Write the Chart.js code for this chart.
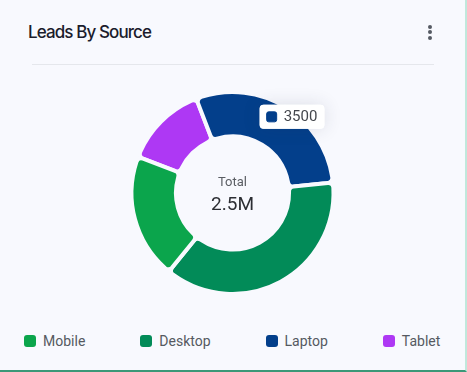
<!DOCTYPE html>
<html>
<head>
<meta charset="utf-8">
<script src="https://cdn.jsdelivr.net/npm/chart.js@4.4.0/dist/chart.umd.min.js"></script>
<style>
  html, body { margin: 0; padding: 0; }
  body {
    width: 467px; height: 372px; overflow: hidden;
    background: #f8f9fe;
    font-family: Roboto, "Noto Sans", sans-serif;
  }
  .card {
    position: relative; width: 467px; height: 372px; box-sizing: border-box;
    border-right: 2px solid #c0e8dc; border-bottom: 2px solid #3b9878;
  }
  .title {
    position: absolute; left: 28px; top: 22px;
    font: 500 17px Inter, sans-serif; letter-spacing: -0.9px; color: #1b1c2c;
  }
  .dots { position: absolute; left: 428px; top: 25px; width: 4px; }
  .dots span { display: block; width: 4px; height: 4px; border-radius: 50%; background: #555a63; margin-bottom: 1.3px; }
  .rule { position: absolute; left: 32px; top: 64px; width: 402px; height: 1px; background: #e5e7ec; }
  .chart-box { position: absolute; left: 0; top: 70px; width: 465px; height: 246px; }
  .legend {
    position: absolute; left: 24px; top: 333px; display: flex; gap: 55px;
    font-size: 14px; color: #555961;
  }
  .legend div { display: flex; align-items: center; }
  .legend i { display: inline-block; width: 12px; height: 12px; border-radius: 3px; margin-right: 7px; }
</style>
</head>
<body>
<div class="card">
  <div class="title">Leads By Source</div>
  <div class="dots"><span></span><span></span><span></span></div>
  <div class="rule"></div>
  <div class="chart-box"><canvas id="donut"></canvas></div>
  <div class="legend" id="legend"></div>
</div>
<script>
// data
var sources = ["Mobile", "Desktop", "Laptop", "Tablet"];
var leads = [2400, 4500, 3500, 1600];
var colors = ["#0ba54c", "#028b58", "#033f8b", "#ae38f4"];
var totalLabel = "2.5M";

// legend
var legendEl = document.getElementById("legend");
sources.forEach(function (name, i) {
    var item = document.createElement("div");
    item.innerHTML = '<i style="background:' + colors[i] + '"></i>' + name;
    legendEl.appendChild(item);
});

// drawn counterclockwise in the picture, so hand chart.js the reversed order
var ringLabels = sources.slice().reverse();
var ringData = leads.slice().reverse();
var ringColors = colors.slice().reverse();
var laptopIdx = ringLabels.indexOf("Laptop");

Chart.Tooltip.positioners.nearArc = function (items) {
    if (!items.length) return false;
    var p = items[0].element.tooltipPosition();
    return { x: p.x - 10, y: p.y + 3 };
};

var centerText = {
    id: 'centerText',
    afterDraw: function (chart) {
        var arc = chart.getDatasetMeta(0).data[0];
        var ctx = chart.ctx;
        ctx.save();
        ctx.textAlign = 'center';
        ctx.fillStyle = '#5a5d63';
        ctx.font = '13px Roboto';
        ctx.fillText('Total', arc.x, arc.y - 7);
        ctx.fillStyle = '#2c2e33';
        ctx.font = '19px Roboto';
        ctx.fillText(totalLabel, arc.x, arc.y + 17);
        ctx.restore();
    }
};

var tipShadow = {
    id: 'tipShadow',
    beforeTooltipDraw: function (chart) {
        var t = chart.tooltip;
        if (!t || !t.opacity) return;
        var ctx = chart.ctx;
        ctx.save();
        ctx.shadowColor = 'rgba(40,50,80,0.14)';
        ctx.shadowBlur = 18;
        ctx.fillStyle = '#ffffff';
        ctx.beginPath();
        ctx.roundRect(t.x, t.y, t.width, t.height, 4);
        ctx.fill();
        ctx.restore();
    }
};

var ctx = document.getElementById("donut");

var chartGraph = new Chart(ctx, {
    type: 'doughnut',
    data: {
        labels: ringLabels,
        datasets: [{
            data: ringData,
            backgroundColor: ringColors,
            hoverBackgroundColor: ringColors,
            borderColor: '#f8f9fe',
            hoverBorderColor: '#f8f9fe',
            borderWidth: 4,
            hoverBorderWidth: 4,
            borderRadius: 5,
            hoverOffset: 0
        }]
    },
    options: {
        responsive: true,
        maintainAspectRatio: false,
        animation: false,
        rotation: 291,
        radius: 101,
        cutout: '56%',
        events: [],
        plugins: {
            legend: { display: false },
            tooltip: {
                position: 'nearArc',
                xAlign: 'left',
                yAlign: 'bottom',
                backgroundColor: '#ffffff',
                bodyColor: '#44474d',
                bodyFont: { family: 'Roboto', size: 15 },
                padding: { x: 7, y: 3 },
                caretSize: 0,
                caretPadding: 0,
                cornerRadius: 4,
                boxWidth: 10,
                boxHeight: 10,
                boxPadding: 5,
                displayColors: true,
                multiKeyBackground: ringColors[laptopIdx],
                callbacks: {
                    title: function () { return ''; },
                    label: function (item) { return String(item.raw); },
                    labelColor: function (item) {
                        var c = ringColors[item.dataIndex];
                        return { borderColor: c, backgroundColor: c, borderWidth: 1, borderRadius: 2 };
                    }
                }
            }
        }
    },
    plugins: [centerText, tipShadow]
});

// show the Laptop value like the reference
chartGraph.tooltip.setActiveElements([{ datasetIndex: 0, index: laptopIdx }], { x: 0, y: 0 });
chartGraph.update();
</script>
</body>
</html>
